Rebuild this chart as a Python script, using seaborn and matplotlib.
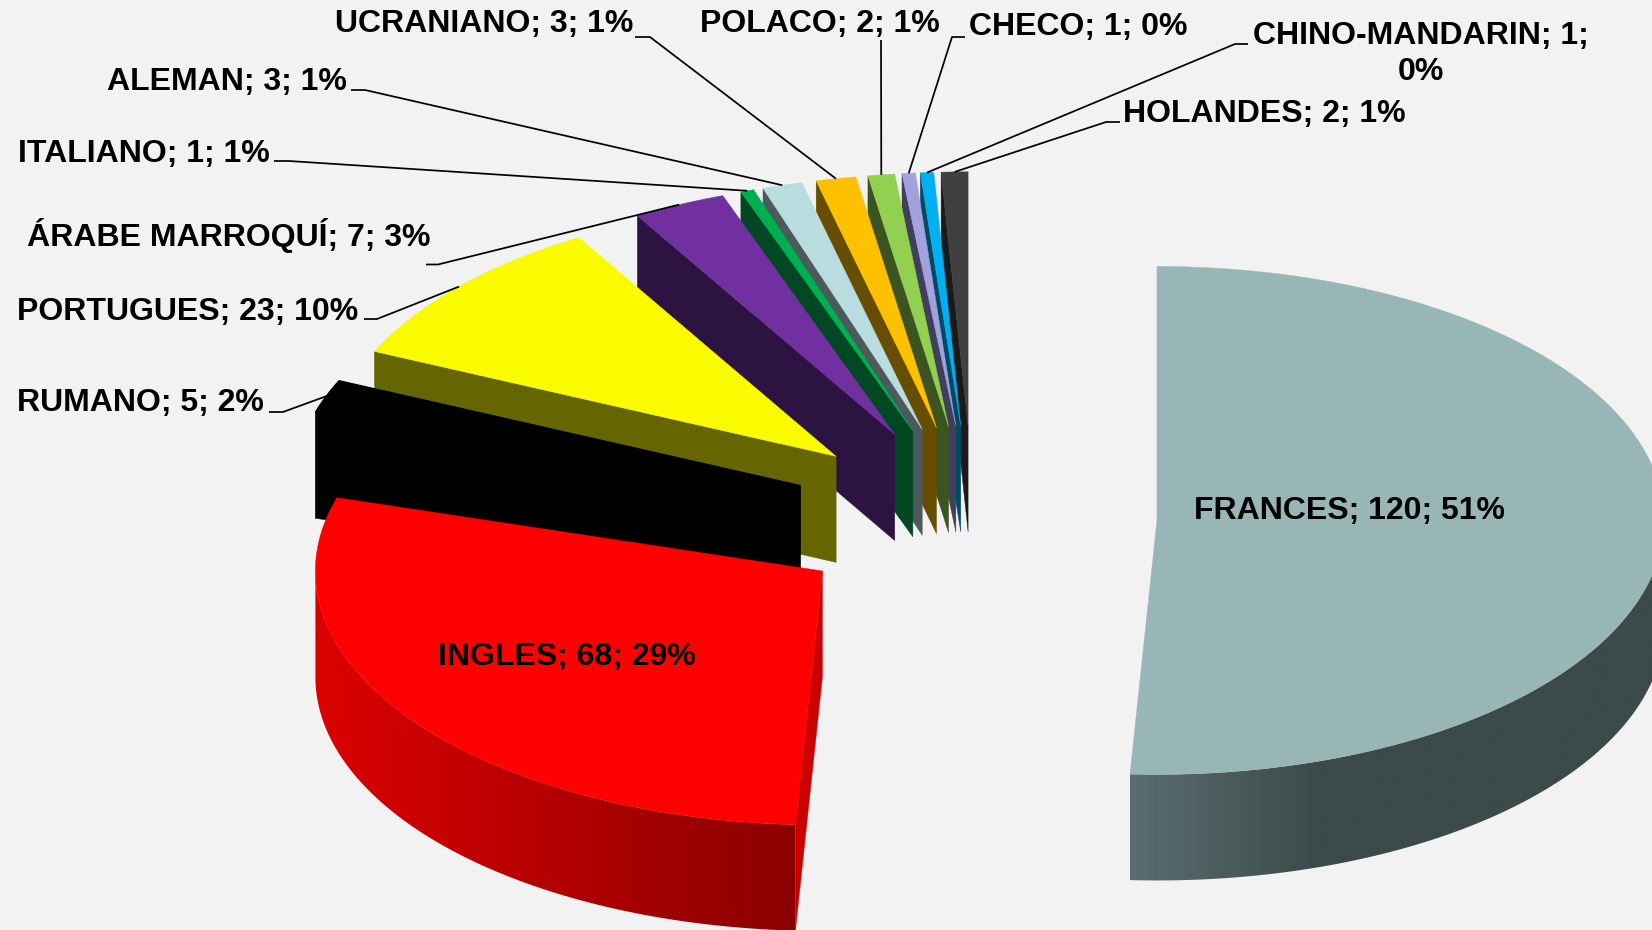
import numpy as np
import matplotlib
matplotlib.use("Agg")
import matplotlib.pyplot as plt
from matplotlib.patches import Polygon
import seaborn as sns

sns.set_theme(style="white")
plt.rcParams['font.family'] = ['Liberation Sans', 'DejaVu Sans']

# clockwise from 12 o'clock
languages = ["FRANCES", "INGLES", "RUMANO", "PORTUGUES", "ÁRABE MARROQUÍ", "ITALIANO",
             "ALEMAN", "UCRANIANO", "POLACO", "CHECO", "CHINO-MANDARIN", "HOLANDES"]
speakers = [120, 68, 5, 23, 7, 1, 3, 3, 2, 1, 1, 2]
percents = [51, 29, 2, 10, 3, 1, 1, 1, 1, 0, 0, 1]
topColors = ["#99b6b7", "#ff0000", "#000000", "#fbfb00", "#7030a0", "#00b050",
             "#b9dcdf", "#ffc000", "#92d050", "#a3a0de", "#00b0f0", "#404040"]
wallColors = ["#3c4a4a", "#cc0000", "#000000", "#666600", "#2d1342", "#004723",
              "#4c5a5c", "#664d00", "#3b5420", "#40405c", "#004a66", "#1a1a1a"]

# pie geometry in pixels of the 1652x930 canvas
cx, cy = 973, 518
rx, ry = 507, 254
explode = 0.363
depth = 106
# back to front
drawOrder = [0, 11, 10, 9, 8, 7, 6, 5, 4, 3, 2, 1]

# gradient of the outer wall: light colour, dark colour, x where the dark is reached
gradients = {0: ("#5a6e70", "#3c4a4a", 1317), 1: ("#dc0000", "#8a0000", None)}

# text x, y, ha per language
labelPos = [(1194, 511, "left"), (438, 657, "left"), (17, 403, "left"), (17, 312, "left"),
            (27, 235, "left"), (18, 154, "left"), (107, 82, "left"), (335, 24, "left"),
            (700, 24, "left"), (969, 27, "left"), (1421, 54, "center"), (1123, 114, "left")]
# start of each leader line, then the line runs to the slice
leaderStart = {2: [(269, 412), (283, 412)], 3: [(364, 319), (377, 319)],
               4: [(426, 264.5), (438, 264.5)], 5: [(274, 161), (289, 161)],
               6: [(351, 90), (365, 90)], 7: [(635, 37), (650, 37)], 8: [(881, 40)],
               9: [(965, 37), (952, 37)], 10: [(1248, 44), (1235, 44)],
               11: [(1120, 122), (1106, 122)]}


def point(tip, angle):
    return tip[0] + rx * np.sin(angle), tip[1] - ry * np.cos(angle)


fig = plt.figure(figsize=(16.52, 9.3), dpi=100, facecolor="#f2f2f2")
ax = fig.add_axes([0, 0, 1, 1])
ax.set_xlim(0, 1652)
ax.set_ylim(930, 0)
ax.set_autoscale_on(False)
ax.axis("off")

edges = np.radians(np.concatenate([[0], np.cumsum(speakers)]) / np.sum(speakers) * 360)
tips = []
for i in range(len(speakers)):
    mid = (edges[i] + edges[i + 1]) / 2
    tips.append((cx + explode * rx * np.sin(mid), cy - explode * ry * np.cos(mid)))

for z, i in enumerate(drawOrder):
    tip = tips[i]
    a0, a1 = edges[i], edges[i + 1]
    angles = np.linspace(a0, a1, 200)
    xs, ys = point(tip, angles)

    # outer wall, only the front half of the ellipse shows
    if i in gradients:
        front = angles[np.cos(angles) < 0]
        fx, fy = point(tip, front)
        wall = np.column_stack([np.r_[fx, fx[::-1]], np.r_[fy, fy[::-1] + depth]])
        light, dark, darkAt = gradients[i]
        xMin, xMax = fx.min(), fx.max()
        ramp = sns.blend_palette([light, dark], 256)
        if darkAt is not None:
            # flat dark colour past darkAt
            ramp = ramp + [ramp[-1]] * int(256 * (xMax - darkAt) / (darkAt - xMin))
        im = ax.imshow(np.array(ramp)[None, :, :], extent=(xMin, xMax, 930, 0), aspect="auto",
                       zorder=z + 0.1)
        im.set_clip_path(Polygon(wall, transform=ax.transData))

    # flat walls, the side facing the viewer
    if np.sin(a0) < 0:
        x0, y0 = point(tip, a0)
        ax.fill([tip[0], x0, x0, tip[0]], [tip[1], y0, y0 + depth, tip[1] + depth],
                color=wallColors[i], lw=0.3, zorder=z + 0.2)
    if np.sin(a1) > 0:
        x1, y1 = point(tip, a1)
        ax.fill([tip[0], x1, x1, tip[0]], [tip[1], y1, y1 + depth, tip[1] + depth],
                color=wallColors[i], lw=0.3, zorder=z + 0.2)

    ax.fill(np.r_[tip[0], xs], np.r_[tip[1], ys], color=topColors[i], lw=0.8 if i == 2 else 0.3,
            zorder=z + 0.3)

for i, start in leaderStart.items():
    end = point(tips[i], (edges[i] + edges[i + 1]) / 2)
    path = start + [end]
    ax.plot([p[0] for p in path], [p[1] for p in path], color="black", lw=1.25,
            solid_capstyle="butt", zorder=50)

for i, name in enumerate(languages):
    x, y, ha = labelPos[i]
    text = "{}; {}; {}%".format(name, speakers[i], percents[i])
    if name == "CHINO-MANDARIN":
        text = "{}; {};\n{}%".format(name, speakers[i], percents[i])
    ax.text(x, y, text, ha=ha, va="center", fontsize=23, fontweight="bold", color="black",
            linespacing=1.27, multialignment="center", zorder=60)

fig.savefig("out.png", dpi=100, facecolor=fig.get_facecolor())
